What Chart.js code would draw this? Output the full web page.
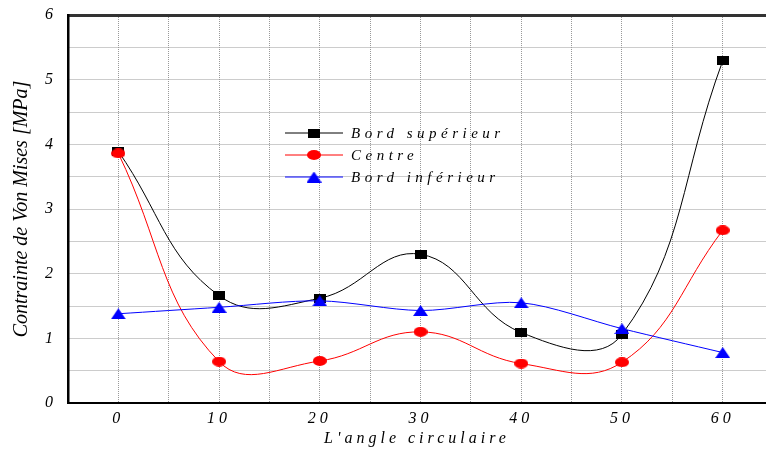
<!DOCTYPE html>
<html>
<head>
<meta charset="utf-8">
<script src="https://cdn.jsdelivr.net/npm/chart.js@4"></script>
<style>
  html, body { margin: 0; padding: 0; background: #fff; }
  canvas { display: block; }
</style>
</head>
<body>
<canvas id="chart" width="766" height="453"></canvas>
<script>
// -- data --
const angles = [0, 10, 20, 30, 40, 50, 60];
const bordSuperieur = [3.89, 1.66, 1.62, 2.30, 1.09, 1.06, 5.29];
const centre = [3.86, 0.64, 0.65, 1.10, 0.61, 0.63, 2.67];
const bordInferieur = [1.38, 1.48, 1.58, 1.43, 1.55, 1.15, 0.78];

const X_MIN = -5;
const X_MAX = 64.3;
const X_GRID_STEP = 5;

const SERIF = "'Liberation Serif', 'Times New Roman', serif";
const GRID = '#999999';

// markers are a bit wider than tall in the original, so draw them as small images
function makeMarker(shape, color, w, h) {
    const c = document.createElement('canvas');
    c.width = w;
    c.height = h;
    const g = c.getContext('2d');
    g.fillStyle = color;
    if (shape === 'rect') {
        g.fillRect(0, 0, w, h);
    } else if (shape === 'ellipse') {
        g.beginPath();
        g.ellipse(w / 2, h / 2, w / 2, h / 2, 0, 0, Math.PI * 2);
        g.fill();
    } else {
        g.beginPath();
        g.moveTo(w / 2, 0);
        g.lineTo(w, h);
        g.lineTo(0, h);
        g.closePath();
        g.fill();
    }
    return c;
}

const MARKERS = {
    square: makeMarker('rect', '#000000', 12, 9),
    circle: makeMarker('ellipse', '#ff0000', 14, 10),
    triangle: makeMarker('tri', '#0000ff', 15, 11),
};

// linear scale whose labels/title are letter-spaced
class SpacedLinear extends Chart.LinearScale {
    draw(area) {
        const ctx = this.ctx;
        const prev = ctx.letterSpacing;
        ctx.letterSpacing = '4px';
        super.draw(area);
        ctx.letterSpacing = prev;
    }
}
SpacedLinear.id = 'spacedLinear';
SpacedLinear.defaults = Chart.LinearScale.defaults;
Chart.register(SpacedLinear);

const toPoints = (ys) => angles.map((a, i) => ({ x: a, y: ys[i] }));

// legend drawn inside the plot: line - marker - line, then spaced text
const innerLegend = {
    id: 'innerLegend',
    afterDatasetsDraw(chart) {
        const ctx = chart.ctx;
        const rows = [133, 155, 177];
        ctx.save();
        ctx.font = 'italic 15px ' + SERIF;
        ctx.letterSpacing = '4.5px';
        ctx.textBaseline = 'middle';
        ctx.textAlign = 'left';
        chart.data.datasets.forEach((ds, i) => {
            const y = rows[i];
            ctx.strokeStyle = ds.borderColor;
            ctx.lineWidth = 1;
            ctx.beginPath();
            ctx.moveTo(285, y);
            ctx.lineTo(343, y);
            ctx.stroke();
            const img = ds.pointStyle;
            ctx.drawImage(img, 314 - img.width / 2, y - img.height / 2);
            ctx.fillStyle = '#000';
            ctx.fillText(ds.label, 351, y + 1);
        });
        ctx.restore();
    },
};

const noPad = (s) => {
    s.paddingLeft = 0;
    s.paddingRight = 0;
    s.paddingTop = 0;
    s.paddingBottom = 0;
};

new Chart(document.getElementById('chart'), {
    type: 'line',
    data: {
        datasets: [
            {
                label: 'Bord supérieur',
                data: toPoints(bordSuperieur),
                borderColor: '#000000',
                pointStyle: MARKERS.square,
                order: 3,
            },
            {
                label: 'Centre',
                data: toPoints(centre),
                borderColor: '#ff0000',
                pointStyle: MARKERS.circle,
                order: 2,
            },
            {
                label: 'Bord inférieur',
                data: toPoints(bordInferieur),
                borderColor: '#0000ff',
                pointStyle: MARKERS.triangle,
                order: 1,
                tension: 0.3,
            },
        ],
    },
    options: {
        responsive: false,
        animation: false,
        devicePixelRatio: 1,
        // plot runs to the right edge in the original, so no overflow padding
        layout: { padding: 0, autoPadding: false },
        elements: {
            line: { borderWidth: 1, tension: 0.42, fill: false },
            point: { radius: 6, hoverRadius: 6 },
        },
        plugins: {
            legend: { display: false },
            tooltip: { enabled: false },
        },
        scales: {
            x: {
                type: 'spacedLinear',
                position: 'bottom',
                min: X_MIN,
                max: X_MAX,
                afterBuildTicks: (s) => {
                    const t = [];
                    for (let v = X_MIN; v <= X_MAX; v += X_GRID_STEP) t.push({ value: v });
                    s.ticks = t;
                },
                afterFit: (s) => { s.height = 50; noPad(s); },
                ticks: {
                    padding: 6,
                    color: '#000',
                    font: { family: SERIF, size: 16, style: 'italic' },
                    callback: (v) => (v % 10 === 0 ? v : ''),
                    maxRotation: 0,
                    autoSkip: false,
                },
                grid: {
                    drawTicks: false,
                    lineWidth: 1,
                    color: (c) => (c.tick && c.tick.value > X_MIN ? GRID : 'rgba(0,0,0,0)'),
                },
                border: { display: true, color: '#000', width: 2, dash: [1, 1] },
                title: {
                    display: true,
                    text: "L'angle circulaire",
                    color: '#000',
                    font: { family: SERIF, size: 16, style: 'italic' },
                    padding: { top: 0, bottom: 5 },
                },
            },
            x2: {
                type: 'linear',
                position: 'top',
                min: X_MIN,
                max: X_MAX,
                afterFit: (s) => { s.height = 15; noPad(s); },
                ticks: { display: false },
                grid: { display: false, drawTicks: false },
                border: { display: true, color: '#333', width: 3 },
            },
            y: {
                min: 0,
                max: 6,
                afterFit: (s) => { s.width = 68; noPad(s); },
                ticks: {
                    stepSize: 0.5,
                    padding: 15,
                    color: '#000',
                    font: { family: SERIF, size: 16, style: 'italic' },
                    callback: (v) => (Number.isInteger(v) ? v : ''),
                },
                grid: {
                    drawTicks: false,
                    lineWidth: 1,
                    color: (c) => (c.tick && c.tick.value > 0 ? GRID : 'rgba(0,0,0,0)'),
                },
                border: { display: true, color: '#000', width: 2.5, dash: [1, 1] },
                title: {
                    display: true,
                    text: 'Contrainte de Von Mises [MPa]',
                    color: '#000',
                    font: { family: SERIF, size: 20, style: 'italic' },
                    padding: { top: 10, bottom: 0 },
                },
            },
        },
    },
    plugins: [innerLegend],
});
</script>
</body>
</html>
